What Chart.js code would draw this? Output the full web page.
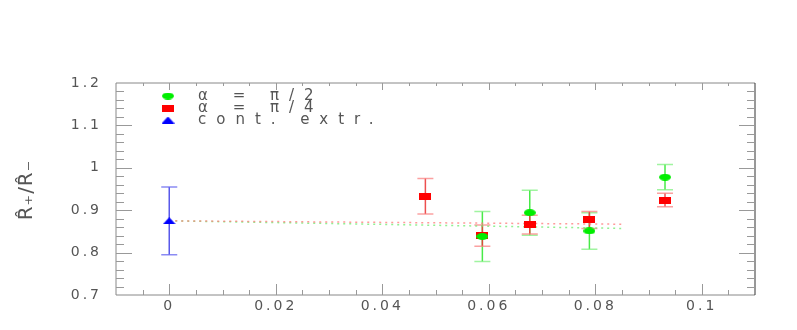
<!DOCTYPE html>
<html>
<head>
<meta charset="utf-8">
<script src="https://cdn.jsdelivr.net/npm/chart.js@4.4.1/dist/chart.umd.min.js"></script>
<style>
  body { margin: 0; background: #fff; }
  #c { display: block; }
</style>
</head>
<body>
<canvas id="c" width="797" height="330"></canvas>
<script>
// data
const labels = ['α = π/2', 'α = π/4', 'cont. extr.'];

const halfX = [0.0588, 0.0677, 0.0789, 0.0931];
const halfY = [0.838, 0.894, 0.851, 0.978];
const halfErr = [0.059, 0.053, 0.043, 0.030];

const quarterX = [0.0481, 0.0588, 0.0677, 0.0789, 0.0931];
const quarterY = [0.933, 0.840, 0.866, 0.877, 0.924];
const quarterErr = [0.042, 0.025, 0.022, 0.020, 0.016];

const contX = [0];
const contY = [0.875];
const contErr = [0.080];

const fitX = [0, 0.085];
const fitQuarterY = [0.875, 0.867];
const fitHalfY = [0.875, 0.857];

const xTicks = [0, 0.02, 0.04, 0.06, 0.08, 0.1];
const xTickLabels = ['0', '0.02', '0.04', '0.06', '0.08', '0.1'];
const yTicks = [0.7, 0.8, 0.9, 1.0, 1.1, 1.2];
const yTickLabels = ['0.7', '0.8', '0.9', '1', '1.1', '1.2'];

const GREEN = '#00ee00';
const RED = '#ff0000';
const BLUE = '#0000ff';
const TXT = '#555';

function marker(shape, color, w, h){
    const cv = document.createElement('canvas');
    cv.width = w; cv.height = h;
    const g = cv.getContext('2d');
    g.fillStyle = color;
    if (shape === 'ellipse') {
        g.beginPath();
        g.ellipse(w/2, h/2, w/2, h/2, 0, 0, Math.PI*2);
        g.fill();
    } else if (shape === 'tri') {
        g.beginPath();
        g.moveTo(w/2, 0);
        g.lineTo(w, h);
        g.lineTo(0, h);
        g.closePath();
        g.fill();
    } else {
        g.fillRect(0, 0, w, h);
    }
    return cv;
}
const mkHalf = marker('ellipse', GREEN, 12, 7);
const mkQuarter = marker('rect', RED, 12, 7);
const mkCont = marker('tri', BLUE, 13, 7);

const pts = (xs, ys) => xs.map((x, i) => ({x: x, y: ys[i]}));

// error bars, caps and stems under the markers
const errorBars = {
    id: 'errorBars',
    beforeDatasetsDraw(chart){
        const ctx = chart.ctx, xs = chart.scales.x, ys = chart.scales.y;
        chart.data.datasets.forEach(ds => {
            if (!ds.err) return;
            ctx.save();
            ctx.lineWidth = 1.5;
            ds.data.forEach((p, i) => {
                const px = xs.getPixelForValue(p.x);
                const top = ys.getPixelForValue(p.y + ds.err[i]);
                const bot = ys.getPixelForValue(p.y - ds.err[i]);
                ctx.strokeStyle = ds.stemColor;
                ctx.beginPath();
                ctx.moveTo(px, top); ctx.lineTo(px, bot);
                ctx.stroke();
                ctx.strokeStyle = ds.capColor;
                ctx.beginPath();
                ctx.moveTo(px - 8, top); ctx.lineTo(px + 8, top);
                ctx.moveTo(px - 8, bot); ctx.lineTo(px + 8, bot);
                ctx.stroke();
            });
            ctx.restore();
        });
    }
};

// frame with inward ticks on all four sides
const frame = {
    id: 'frame',
    beforeDraw(chart){
        chart.ctx.letterSpacing = '3px';
    },
    afterDatasetsDraw(chart){
        const ctx = chart.ctx, a = chart.chartArea;
        const xs = chart.scales.x, ys = chart.scales.y;
        ctx.save();
        ctx.letterSpacing = '0px';
        ctx.lineWidth = 1;
        ctx.strokeStyle = '#888';
        ctx.beginPath();
        ctx.moveTo(a.left, a.top); ctx.lineTo(a.left, a.bottom); ctx.lineTo(a.right, a.bottom);
        ctx.moveTo(a.left, a.top); ctx.lineTo(a.right, a.top);
        ctx.stroke();
        ctx.strokeStyle = '#333';
        ctx.beginPath();
        ctx.moveTo(a.right, a.top); ctx.lineTo(a.right, a.bottom);
        ctx.stroke();

        ctx.strokeStyle = '#999';
        ctx.beginPath();
        for (let v = -0.005; v <= 0.1101; v += 0.005) {
            const px = Math.round(xs.getPixelForValue(v)) + 0.5;
            const major = Math.abs(Math.round(v / 0.02) * 0.02 - v) < 1e-6;
            const lb = major ? 11 : 5;
            const lt = major ? 7 : 3;
            ctx.moveTo(px, a.bottom); ctx.lineTo(px, a.bottom - lb);
            ctx.moveTo(px, a.top); ctx.lineTo(px, a.top + lt);
        }
        for (let v = 0.72; v < 1.2; v += 0.02) {
            const py = Math.round(ys.getPixelForValue(v)) + 0.5;
            const major = Math.abs(Math.round(v * 10) / 10 - v) < 1e-6;
            const l = major ? 16 : 8;
            ctx.moveTo(a.left, py); ctx.lineTo(a.left + l, py);
            ctx.moveTo(a.right, py); ctx.lineTo(a.right - l, py);
        }
        ctx.stroke();
        ctx.restore();
    },
    afterDraw(chart){
        const ctx = chart.ctx;
        ctx.save();
        // y axis title
        ctx.letterSpacing = '1px';
        ctx.translate(27, 190);
        ctx.rotate(-Math.PI / 2);
        ctx.fillStyle = TXT;
        ctx.font = '20px "DejaVu Sans"';
        ctx.textAlign = 'center';
        ctx.textBaseline = 'middle';
        ctx.fillText('R̂₊/R̂₋', 0, 0);
        ctx.restore();

        // legend inside the plot
        const marks = [mkHalf, mkQuarter, mkCont];
        ctx.save();
        ctx.letterSpacing = '10px';
        ctx.font = '15px "DejaVu Sans"';
        ctx.fillStyle = TXT;
        ctx.textBaseline = 'middle';
        labels.forEach((t, i) => {
            const y = 96 + i * 12;
            ctx.drawImage(marks[i], 168 - marks[i].width / 2, y - marks[i].height / 2);
            ctx.fillText(t, 198, y);
        });
        ctx.restore();
    }
};

const tickFont = {family: 'DejaVu Sans', size: 14};

new Chart(document.getElementById('c'), {
    type: 'scatter',
    data: {
        datasets: [
            {
                label: labels[0],
                data: pts(halfX, halfY),
                err: halfErr,
                stemColor: 'rgba(40,230,40,0.85)',
                capColor: 'rgba(120,240,120,0.7)',
                pointStyle: mkHalf,
                order: 1
            },
            {
                label: labels[1],
                data: pts(quarterX, quarterY),
                err: quarterErr,
                stemColor: 'rgba(235,60,60,0.9)',
                capColor: 'rgba(250,130,130,0.75)',
                pointStyle: mkQuarter,
                order: 2
            },
            {
                label: labels[2],
                data: pts(contX, contY),
                err: contErr,
                stemColor: 'rgba(60,60,230,0.85)',
                capColor: 'rgba(110,110,240,0.8)',
                pointStyle: mkCont,
                order: 3
            },
            {
                type: 'line',
                data: pts(fitX, fitQuarterY),
                borderColor: 'rgba(255,120,120,0.75)',
                borderWidth: 1.5,
                borderDash: [2, 4],
                pointRadius: 0,
                order: 4
            },
            {
                type: 'line',
                data: pts(fitX, fitHalfY),
                borderColor: 'rgba(110,235,110,0.75)',
                borderWidth: 1.5,
                borderDash: [2, 4],
                pointRadius: 0,
                order: 5
            }
        ]
    },
    options: {
        responsive: false,
        animation: false,
        devicePixelRatio: 1,
        layout: {padding: {left: 0, top: 83, right: 42, bottom: 0}},
        plugins: {legend: {display: false}, tooltip: {enabled: false}},
        scales: {
            x: {
                type: 'linear',
                min: -0.01,
                max: 0.11,
                afterFit: s => { s.height = 35; },
                afterBuildTicks: s => { s.ticks = xTicks.map(v => ({value: v})); },
                grid: {display: false, drawTicks: false},
                border: {display: false},
                ticks: {
                    color: TXT,
                    font: tickFont,
                    padding: 3,
                    maxRotation: 0,
                    callback: (v, i) => xTickLabels[i]
                }
            },
            y: {
                type: 'linear',
                min: 0.7,
                max: 1.2,
                afterFit: s => { s.width = 116; },
                afterBuildTicks: s => { s.ticks = yTicks.map(v => ({value: v})); },
                grid: {display: false, drawTicks: false},
                border: {display: false},
                ticks: {
                    color: TXT,
                    font: tickFont,
                    padding: 14,
                    callback: (v, i) => yTickLabels[i]
                }
            }
        }
    },
    plugins: [errorBars, frame]
});
</script>
</body>
</html>
